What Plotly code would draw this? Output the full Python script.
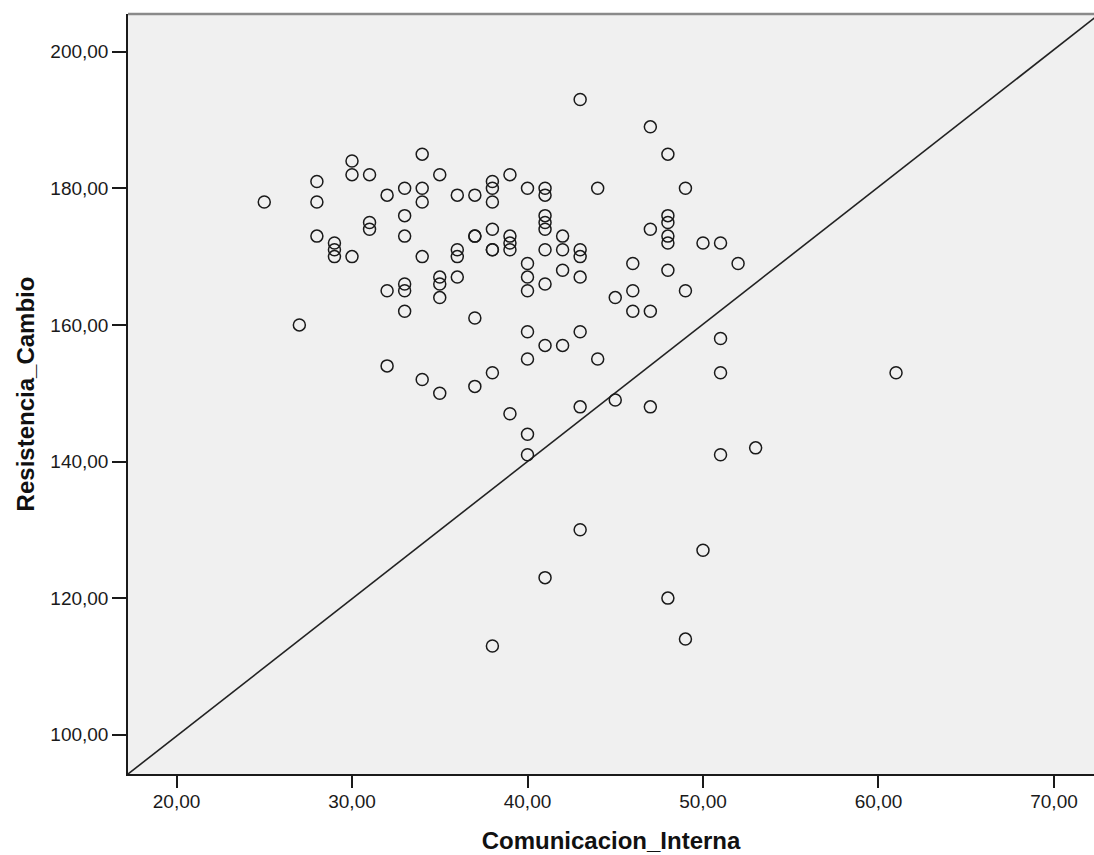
import plotly.graph_objects as go

# Data (Comunicacion_Interna vs Resistencia_Cambio)
comunicacion = [
    25,
    27,
    28, 28, 28,
    29, 29, 29,
    30, 30, 30,
    31, 31, 31,
    32, 32, 32,
    33, 33, 33, 33, 33, 33,
    34, 34, 34, 34, 34,
    35, 35, 35, 35, 35,
    36, 36, 36, 36,
    37, 37, 37, 37, 37,
    38, 38, 38, 38, 38, 38, 38, 38,
    39, 39, 39, 39, 39,
    40, 40, 40, 40, 40, 40, 40, 40,
    41, 41, 41, 41, 41, 41, 41, 41, 41,
    42, 42, 42, 42,
    43, 43, 43, 43, 43, 43, 43,
    44, 44,
    45, 45,
    46, 46, 46,
    47, 47, 47, 47,
    48, 48, 48, 48, 48, 48, 48,
    49, 49, 49,
    50, 50,
    51, 51, 51, 51,
    52,
    53,
    61,
]
resistencia = [
    178,
    160,
    181, 178, 173,
    172, 171, 170,
    184, 182, 170,
    182, 175, 174,
    179, 165, 154,
    180, 176, 173, 166, 165, 162,
    185, 180, 178, 170, 152,
    182, 167, 166, 164, 150,
    179, 171, 170, 167,
    179, 173, 173, 161, 151,
    181, 180, 178, 174, 171, 171, 153, 113,
    182, 173, 172, 171, 147,
    180, 169, 167, 165, 159, 155, 144, 141,
    180, 179, 176, 175, 174, 171, 166, 157, 123,
    173, 171, 168, 157,
    193, 171, 170, 167, 159, 148, 130,
    180, 155,
    164, 149,
    169, 165, 162,
    189, 174, 162, 148,
    185, 176, 175, 173, 172, 168, 120,
    180, 165, 114,
    172, 127,
    172, 158, 153, 141,
    169,
    142,
    153,
]

# Reference line parameters
line_slope = 2.01
line_intercept = 59.6

x_ticks = [20, 30, 40, 50, 60, 70]
y_ticks = [100, 120, 140, 160, 180, 200]
x_range = [17.236, 72.28]
y_range = [94.25, 205.52]

line_x = [x_range[0] - 0.2, x_range[1] + 0.2]
line_y = [line_slope * v + line_intercept for v in line_x]

fig = go.Figure()
fig.add_trace(go.Scatter(
    x=line_x, y=line_y, mode="lines",
    line=dict(color="#222222", width=1.6),
    hoverinfo="skip", showlegend=False,
))
fig.add_trace(go.Scatter(
    x=comunicacion, y=resistencia, mode="markers",
    marker=dict(symbol="circle-open", size=12, color="#1a1a1a",
                line=dict(width=1.5, color="#1a1a1a")),
    showlegend=False,
))

font_family = "Liberation Sans, Arial, sans-serif"

fig.update_layout(
    width=1094, height=855,
    margin=dict(l=128, r=0, t=14, b=81, pad=0),
    paper_bgcolor="white",
    plot_bgcolor="#F0F0F0",
    separators=",.",
    font=dict(family=font_family, color="#1a1a1a"),
    xaxis=dict(
        range=x_range, tickvals=x_ticks, tickformat=".2f",
        showgrid=False, zeroline=False,
        showline=True, linecolor="#1a1a1a", linewidth=1.5,
        ticks="outside", ticklen=12, tickwidth=1.5, tickcolor="#1a1a1a",
        tickfont=dict(size=19, family=font_family, color="#1a1a1a"),
        ticklabelstandoff=-3,
        title=dict(text="<b>Comunicacion_Interna</b>",
                   font=dict(size=24, family=font_family, color="#111111"),
                   standoff=22),
    ),
    yaxis=dict(
        range=y_range, tickvals=y_ticks, tickformat=".2f",
        showgrid=False, zeroline=False,
        showline=True, linecolor="#1a1a1a", linewidth=1.5,
        ticks="outside", ticklen=14, tickwidth=1.5, tickcolor="#1a1a1a",
        tickfont=dict(size=19, family=font_family, color="#1a1a1a"),
        ticklabelstandoff=0,
        title=dict(text="<b>Resistencia_Cambio</b>",
                   font=dict(size=24, family=font_family, color="#111111"),
                   standoff=9),
    ),
    shapes=[dict(type="line", xref="paper", yref="paper",
                 x0=0, x1=1, y0=1, y1=1,
                 line=dict(color="#8a8a8a", width=2.5))],
)

fig.write_html("out.html")
